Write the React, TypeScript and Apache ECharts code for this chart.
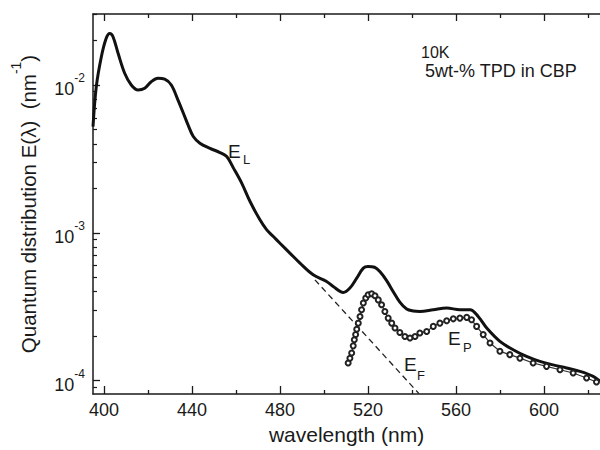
import React, { useEffect, useRef } from "react";
import * as echarts from "echarts";

// Main emission spectrum E_L (wavelength nm, E in nm^-1)
const LAMBDA_L = [395.0, 396.5, 398.8, 401.0, 402.6, 404.1, 406.4, 409.4, 412.4, 415.5, 418.5, 421.5, 424.5, 427.6, 430.6, 433.6, 436.7, 438.2, 440.6, 443.6, 448.2, 452.7, 455.8, 458.8, 462.6, 466.4, 470.9, 474.0, 477.0, 480.0, 484.5, 489.1, 495.1, 501.2, 504.2, 508.8, 511.8, 514.9, 517.9, 520.0, 523.0, 525.5, 528.5, 531.5, 534.5, 537.6, 540.6, 543.6, 549.7, 555.8, 561.8, 566.4, 570.1, 574.0, 580.0, 586.0, 592.1, 598.2, 604.2, 610.3, 616.4, 622.4, 625.5];
const E_L = [5.22e-3, 9.75e-3, 1.552e-2, 2.07e-2, 2.23e-2, 2.12e-2, 1.637e-2, 1.2e-2, 1.0e-2, 9.25e-3, 9.5e-3, 1.052e-2, 1.11e-2, 1.094e-2, 1.0e-2, 7.93e-3, 6.11e-3, 5.37e-3, 4.48e-3, 4.04e-3, 3.73e-3, 3.49e-3, 3.28e-3, 2.75e-3, 2.17e-3, 1.63e-3, 1.225e-3, 1.047e-3, 9.44e-4, 8.51e-4, 7.29e-4, 6.24e-4, 5.2e-4, 4.69e-4, 4.34e-4, 3.95e-4, 4.23e-4, 4.94e-4, 5.77e-4, 5.92e-4, 5.85e-4, 5.45e-4, 4.75e-4, 4.0e-4, 3.4e-4, 3.05e-4, 2.96e-4, 2.94e-4, 3.02e-4, 3.1e-4, 3.02e-4, 3.02e-4, 2.72e-4, 2.27e-4, 1.845e-4, 1.62e-4, 1.46e-4, 1.35e-4, 1.28e-4, 1.22e-4, 1.156e-4, 1.07e-4, 9.9e-5];

// Phosphorescence component E_P (open circles)
const LAMBDA_P = [511.0, 511.8, 512.6, 513.3, 513.8, 514.4, 514.9, 515.6, 516.4, 517.1, 517.9, 519.0, 520.1, 521.7, 523.2, 524.7, 526.2, 527.7, 529.2, 530.8, 532.3, 534.5, 536.8, 539.1, 541.4, 543.6, 546.7, 549.7, 552.7, 555.8, 558.8, 561.8, 564.9, 567.1, 569.4, 572.4, 575.5, 580.0, 584.5, 589.1, 595.1, 601.2, 607.3, 613.3, 619.4, 623.9];
const E_P = [1.318e-4, 1.42e-4, 1.54e-4, 1.72e-4, 1.89e-4, 2.05e-4, 2.23e-4, 2.45e-4, 2.72e-4, 3.02e-4, 3.35e-4, 3.62e-4, 3.81e-4, 3.87e-4, 3.75e-4, 3.52e-4, 3.26e-4, 2.94e-4, 2.65e-4, 2.45e-4, 2.27e-4, 2.12e-4, 1.99e-4, 1.945e-4, 1.99e-4, 2.1e-4, 2.15e-4, 2.33e-4, 2.45e-4, 2.54e-4, 2.62e-4, 2.65e-4, 2.68e-4, 2.58e-4, 2.33e-4, 2.05e-4, 1.8e-4, 1.58e-4, 1.5e-4, 1.42e-4, 1.318e-4, 1.25e-4, 1.186e-4, 1.127e-4, 1.042e-4, 9.8e-5];

// Fluorescence tail extrapolation E_F (dashed)
const LAMBDA_F = [495.9, 543.2];
const E_F = [4.81e-4, 8.17e-5];

// Axes
const X_MIN = 395;
const X_MAX = 625.5;
const X_MAJOR = [400, 440, 480, 520, 560, 600];
const X_MINOR = [420, 460, 500, 540, 580, 620];
const Y_MIN_EXP = -4.09;
const Y_MAX_EXP = -1.52;
const Y_DECADES = [-4, -3, -2];
const Y_MINOR_MULT = [2, 3, 4, 5, 6, 7, 8, 9];

const FONT = '"Liberation Sans", Arial, Helvetica, sans-serif';
const INK = "#1a1a1a";

const yMinorTicks: number[] = [];
[-5, -4, -3, -2].forEach((n) =>
  Y_MINOR_MULT.forEach((k) => {
    const v = n + Math.log10(k);
    if (v > Y_MIN_EXP && v < Y_MAX_EXP) yMinorTicks.push(v);
  })
);

const toLog = (xs: number[], ys: number[]) => xs.map((x, i) => [x, Math.log10(ys[i])]);

export default function App() {
  const ref = useRef<HTMLDivElement>(null);
  useEffect(() => {
    const chart = echarts.init(ref.current!, null, { renderer: "svg" });
    const baseX = {
      type: "value",
      min: X_MIN,
      max: X_MAX,
      splitLine: { show: false },
    };
    const baseY = {
      type: "value",
      min: Y_MIN_EXP,
      max: Y_MAX_EXP,
      splitLine: { show: false },
    };
    const line = { show: true, onZero: false, lineStyle: { color: INK, width: 1.5 } };
    chart.setOption({
      animation: false,
      backgroundColor: "#fff",
      grid: { left: 93, top: 14, right: 0, bottom: 55, containLabel: false },
      xAxis: [
        {
          ...baseX,
          position: "bottom",
          axisLine: line,
          axisTick: { show: true, inside: true, length: 8, customValues: X_MAJOR, lineStyle: { color: INK, width: 1.3 } },
          axisLabel: {
            show: true,
            customValues: X_MAJOR,
            margin: 7,
            fontSize: 18,
            fontFamily: FONT,
            color: INK,
            formatter: (v: number) => String(v),
          },
          name: "wavelength (nm)",
          nameLocation: "middle",
          nameGap: 30,
          nameTextStyle: { fontSize: 21, fontFamily: FONT, color: INK },
        },
        {
          ...baseX,
          position: "bottom",
          axisLine: { show: false },
          axisTick: { show: true, inside: true, length: 4, customValues: X_MINOR, lineStyle: { color: INK, width: 1.3 } },
          axisLabel: { show: false },
        },
        {
          ...baseX,
          position: "top",
          axisLine: line,
          axisTick: { show: true, inside: true, length: 7, customValues: X_MAJOR, lineStyle: { color: INK, width: 1.3 } },
          axisLabel: { show: false },
        },
        {
          ...baseX,
          position: "top",
          axisLine: { show: false },
          axisTick: { show: true, inside: true, length: 4, customValues: X_MINOR, lineStyle: { color: INK, width: 1.3 } },
          axisLabel: { show: false },
        },
      ],
      yAxis: [
        {
          ...baseY,
          position: "left",
          axisLine: line,
          axisTick: { show: true, inside: true, length: 7, customValues: Y_DECADES, lineStyle: { color: INK, width: 1.3 } },
          axisLabel: {
            show: true,
            customValues: Y_DECADES,
            margin: 8,
            formatter: (v: number) => `{b|10}{s|${Math.round(v)}}`,
            rich: {
              b: { fontSize: 18, fontFamily: FONT, color: INK, lineHeight: 26, verticalAlign: "bottom" },
              s: { fontSize: 12, fontFamily: FONT, color: INK, verticalAlign: "top" },
            },
          },
          name: "{b|Quantum distribution E(λ)  (nm}{s|-1}{b|)}",
          nameLocation: "middle",
          nameGap: 54,
          nameRotate: 90,
          nameTextStyle: {
            rich: {
              b: { fontSize: 20.5, fontFamily: FONT, color: INK, lineHeight: 30, verticalAlign: "bottom" },
              s: { fontSize: 14, fontFamily: FONT, color: INK, verticalAlign: "top" },
            },
          },
        },
        {
          ...baseY,
          position: "left",
          axisLine: { show: false },
          axisTick: { show: true, inside: true, length: 4, customValues: yMinorTicks, lineStyle: { color: INK, width: 1.2 } },
          axisLabel: { show: false },
        },
      ],
      series: [
        {
          name: "E_L",
          type: "line",
          data: toLog(LAMBDA_L, E_L),
          showSymbol: false,
          smooth: 0.35,
          lineStyle: { color: "#111", width: 3 },
          z: 3,
        },
        {
          name: "E_F",
          type: "line",
          data: toLog(LAMBDA_F, E_F),
          showSymbol: false,
          lineStyle: { color: "#222", width: 1.3, type: [6, 4] },
          z: 2,
        },
        {
          name: "E_P",
          type: "line",
          data: toLog(LAMBDA_P, E_P),
          symbol: "emptyCircle",
          symbolSize: 5,
          lineStyle: { color: "#333", width: 1.2 },
          itemStyle: { color: "#222", borderWidth: 1.2 },
          z: 4,
        },
      ],
      graphic: [
        { type: "text", x: 421, y: 52.5, style: { text: "10K", fontSize: 16, lineHeight: 14, fontFamily: FONT, fill: INK, verticalAlign: "middle" } },
        { type: "text", x: 425, y: 70.5, style: { text: "5wt-% TPD in CBP", fontSize: 18, lineHeight: 16, fontFamily: FONT, fill: INK, verticalAlign: "middle" } },
        { type: "text", x: 228, y: 151.5, style: { text: "E", fontSize: 19, fontFamily: FONT, fill: INK, verticalAlign: "middle" } },
        { type: "text", x: 243, y: 159.5, style: { text: "L", fontSize: 13, fontFamily: FONT, fill: INK, verticalAlign: "middle" } },
        { type: "text", x: 448, y: 338.5, style: { text: "E", fontSize: 19, fontFamily: FONT, fill: INK, verticalAlign: "middle" } },
        { type: "text", x: 463, y: 347, style: { text: "P", fontSize: 13, fontFamily: FONT, fill: INK, verticalAlign: "middle" } },
        { type: "text", x: 404, y: 364, style: { text: "E", fontSize: 19, fontFamily: FONT, fill: INK, verticalAlign: "middle" } },
        { type: "text", x: 417, y: 375, style: { text: "F", fontSize: 13, fontFamily: FONT, fill: INK, verticalAlign: "middle" } },
      ],
    });
    return () => chart.dispose();
  }, []);
  return (
    <div
      ref={ref}
      style={{ position: "fixed", left: 0, top: 0, width: 600, height: 450, background: "#fff" }}
    />
  );
}
